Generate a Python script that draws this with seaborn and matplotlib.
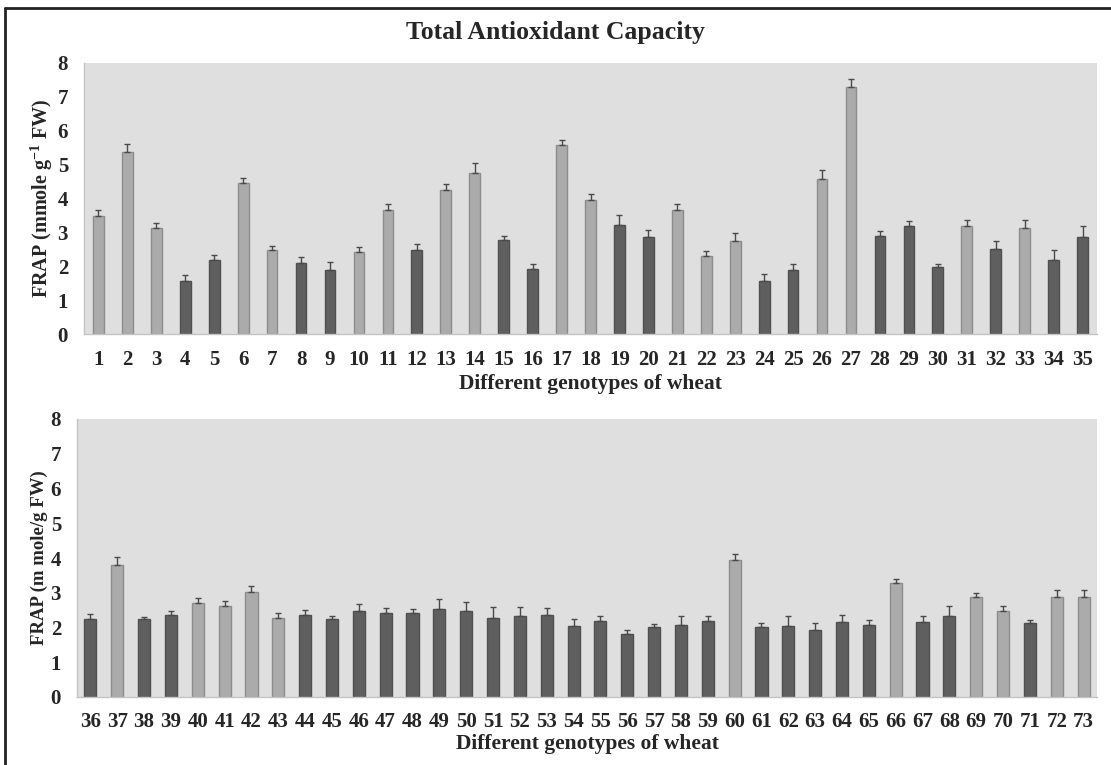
import numpy as np
import pandas as pd
import seaborn as sns
import matplotlib
matplotlib.use("Agg")
from matplotlib import pyplot as plt
from matplotlib.lines import Line2D

# genotypes 1-35 (upper panel)
top_ids = [str(i) for i in range(1, 36)]
top_vals = [3.49, 5.38, 3.14, 1.56, 2.19, 4.46, 2.49, 2.09, 1.90, 2.42,
            3.67, 2.48, 4.24, 4.74, 2.78, 1.92, 5.58, 3.97, 3.22, 2.85,
            3.65, 2.30, 2.74, 1.57, 1.88, 4.57, 7.30, 2.89, 3.19, 1.99,
            3.19, 2.52, 3.14, 2.17, 2.85]
top_err = [0.18, 0.22, 0.13, 0.17, 0.14, 0.15, 0.10, 0.17, 0.22, 0.14,
           0.16, 0.18, 0.20, 0.31, 0.12, 0.16, 0.14, 0.15, 0.30, 0.22,
           0.20, 0.16, 0.23, 0.21, 0.19, 0.27, 0.23, 0.16, 0.16, 0.07,
           0.19, 0.24, 0.22, 0.32, 0.34]
top_grp = ['L', 'L', 'L', 'D', 'D', 'L', 'L', 'D', 'D', 'L',
           'L', 'D', 'L', 'L', 'D', 'D', 'L', 'L', 'D', 'D',
           'L', 'L', 'L', 'D', 'D', 'L', 'L', 'D', 'D', 'D',
           'L', 'D', 'L', 'D', 'D']

# genotypes 36-73 (lower panel)
bot_ids = [str(i) for i in range(36, 74)]
bot_vals = [2.25, 3.80, 2.25, 2.37, 2.71, 2.63, 3.03, 2.27, 2.35, 2.25,
            2.48, 2.42, 2.41, 2.52, 2.47, 2.26, 2.32, 2.35, 2.05, 2.18,
            1.82, 2.01, 2.08, 2.19, 3.94, 2.01, 2.05, 1.92, 2.17, 2.06,
            3.29, 2.17, 2.32, 2.88, 2.48, 2.12, 2.88, 2.88]
bot_err = [0.15, 0.23, 0.04, 0.11, 0.14, 0.14, 0.15, 0.16, 0.14, 0.07,
           0.21, 0.14, 0.12, 0.29, 0.26, 0.34, 0.26, 0.21, 0.20, 0.14,
           0.10, 0.10, 0.24, 0.15, 0.18, 0.13, 0.27, 0.20, 0.18, 0.16,
           0.11, 0.16, 0.29, 0.10, 0.13, 0.10, 0.19, 0.19]
bot_grp = ['D', 'L', 'D', 'D', 'L', 'L', 'L', 'L', 'D', 'D',
           'D', 'D', 'D', 'D', 'D', 'D', 'D', 'D', 'D', 'D',
           'D', 'D', 'D', 'D', 'L', 'D', 'D', 'D', 'D', 'D',
           'L', 'D', 'D', 'L', 'L', 'D', 'L', 'L']

sns.set_theme(style="white")
plt.rcParams['font.family'] = ['Liberation Serif', 'DejaVu Serif']
plt.rcParams['font.weight'] = 'bold'
plt.rcParams['mathtext.fontset'] = 'custom'
plt.rcParams['mathtext.rm'] = 'Liberation Serif:bold'
plt.rcParams['mathtext.default'] = 'rm'

fills = {'L': '#ababab', 'D': '#5f5f5f'}
edges = {'L': '#8c8c8c', 'D': '#505050'}
bg = '#dfdfdf'
spine_c = '#c4c4c4'

fig = plt.figure(figsize=(11.11, 7.65), dpi=100)
W, H = 1111, 765


def panel(rect, ids, vals, err, grp, width, ylabel, ylabsize, tickpad, labpad):
    ax = fig.add_axes(rect)
    df = pd.DataFrame({'genotype': ids, 'frap': vals, 'grp': grp})
    sns.barplot(data=df, x='genotype', y='frap', hue='grp', palette=fills,
                dodge=False, width=width, legend=False, ax=ax, errorbar=None)
    for patch in ax.patches:
        fc = matplotlib.colors.to_hex(patch.get_facecolor())
        patch.set_edgecolor(edges['L'] if fc == fills['L'] else edges['D'])
        patch.set_linewidth(1.0)
    # only the upper half of the error bar is shown
    ax.errorbar(np.arange(len(vals)), vals, yerr=[np.zeros(len(err)), err],
                fmt='none', ecolor='#4a4a4a', elinewidth=1.0, capsize=2.2,
                capthick=1.0)
    ax.set_facecolor(bg)
    ax.set_ylim(0, 8)
    ax.set_yticks(range(0, 9))
    ax.set_xlim(-0.5, len(vals) - 0.5)
    for s in ['top', 'right']:
        ax.spines[s].set_visible(False)
    for s in ['left', 'bottom']:
        ax.spines[s].set_color(spine_c)
        ax.spines[s].set_linewidth(1.0)
    ax.tick_params(axis='y', length=4.5, color=spine_c, pad=7, labelsize=15)
    ax.tick_params(axis='x', length=0, pad=tickpad, labelsize=15)
    for t in ax.get_xticklabels() + ax.get_yticklabels():
        t.set_fontweight('bold')
    ax.set_xlabel('Different genotypes of wheat', fontsize=15.5,
                  fontweight='bold', labelpad=labpad)
    ax.set_ylabel(ylabel, fontsize=ylabsize, fontweight='bold', labelpad=2)
    return ax


ax1 = panel([84 / W, 1 - 334 / H, (1097 - 84) / W, (334 - 63) / H],
            top_ids, top_vals, top_err, top_grp, 0.37,
            r'FRAP (mmole g$^{-1}$ FW)', 14.5, 11.5, 3)
ax2 = panel([77 / W, 1 - 697 / H, (1097 - 77) / W, (697 - 419) / H],
            bot_ids, bot_vals, bot_err, bot_grp, 0.45,
            'FRAP (m mole/g FW)', 13.5, 10.5, 2)

fig.text(0.5, 1 - 33 / H, 'Total Antioxidant Capacity', ha='center',
         va='center', fontsize=18.5, fontweight='bold')

# frame lines of the original figure
fig.add_artist(Line2D([5 / W, 1], [1 - 8 / H, 1 - 8 / H], color='#222222',
                      lw=2, transform=fig.transFigure))
fig.add_artist(Line2D([5 / W, 5 / W], [0, 1 - 8 / H], color='#222222',
                      lw=2, transform=fig.transFigure))

fig.savefig('out.png', dpi=100)
